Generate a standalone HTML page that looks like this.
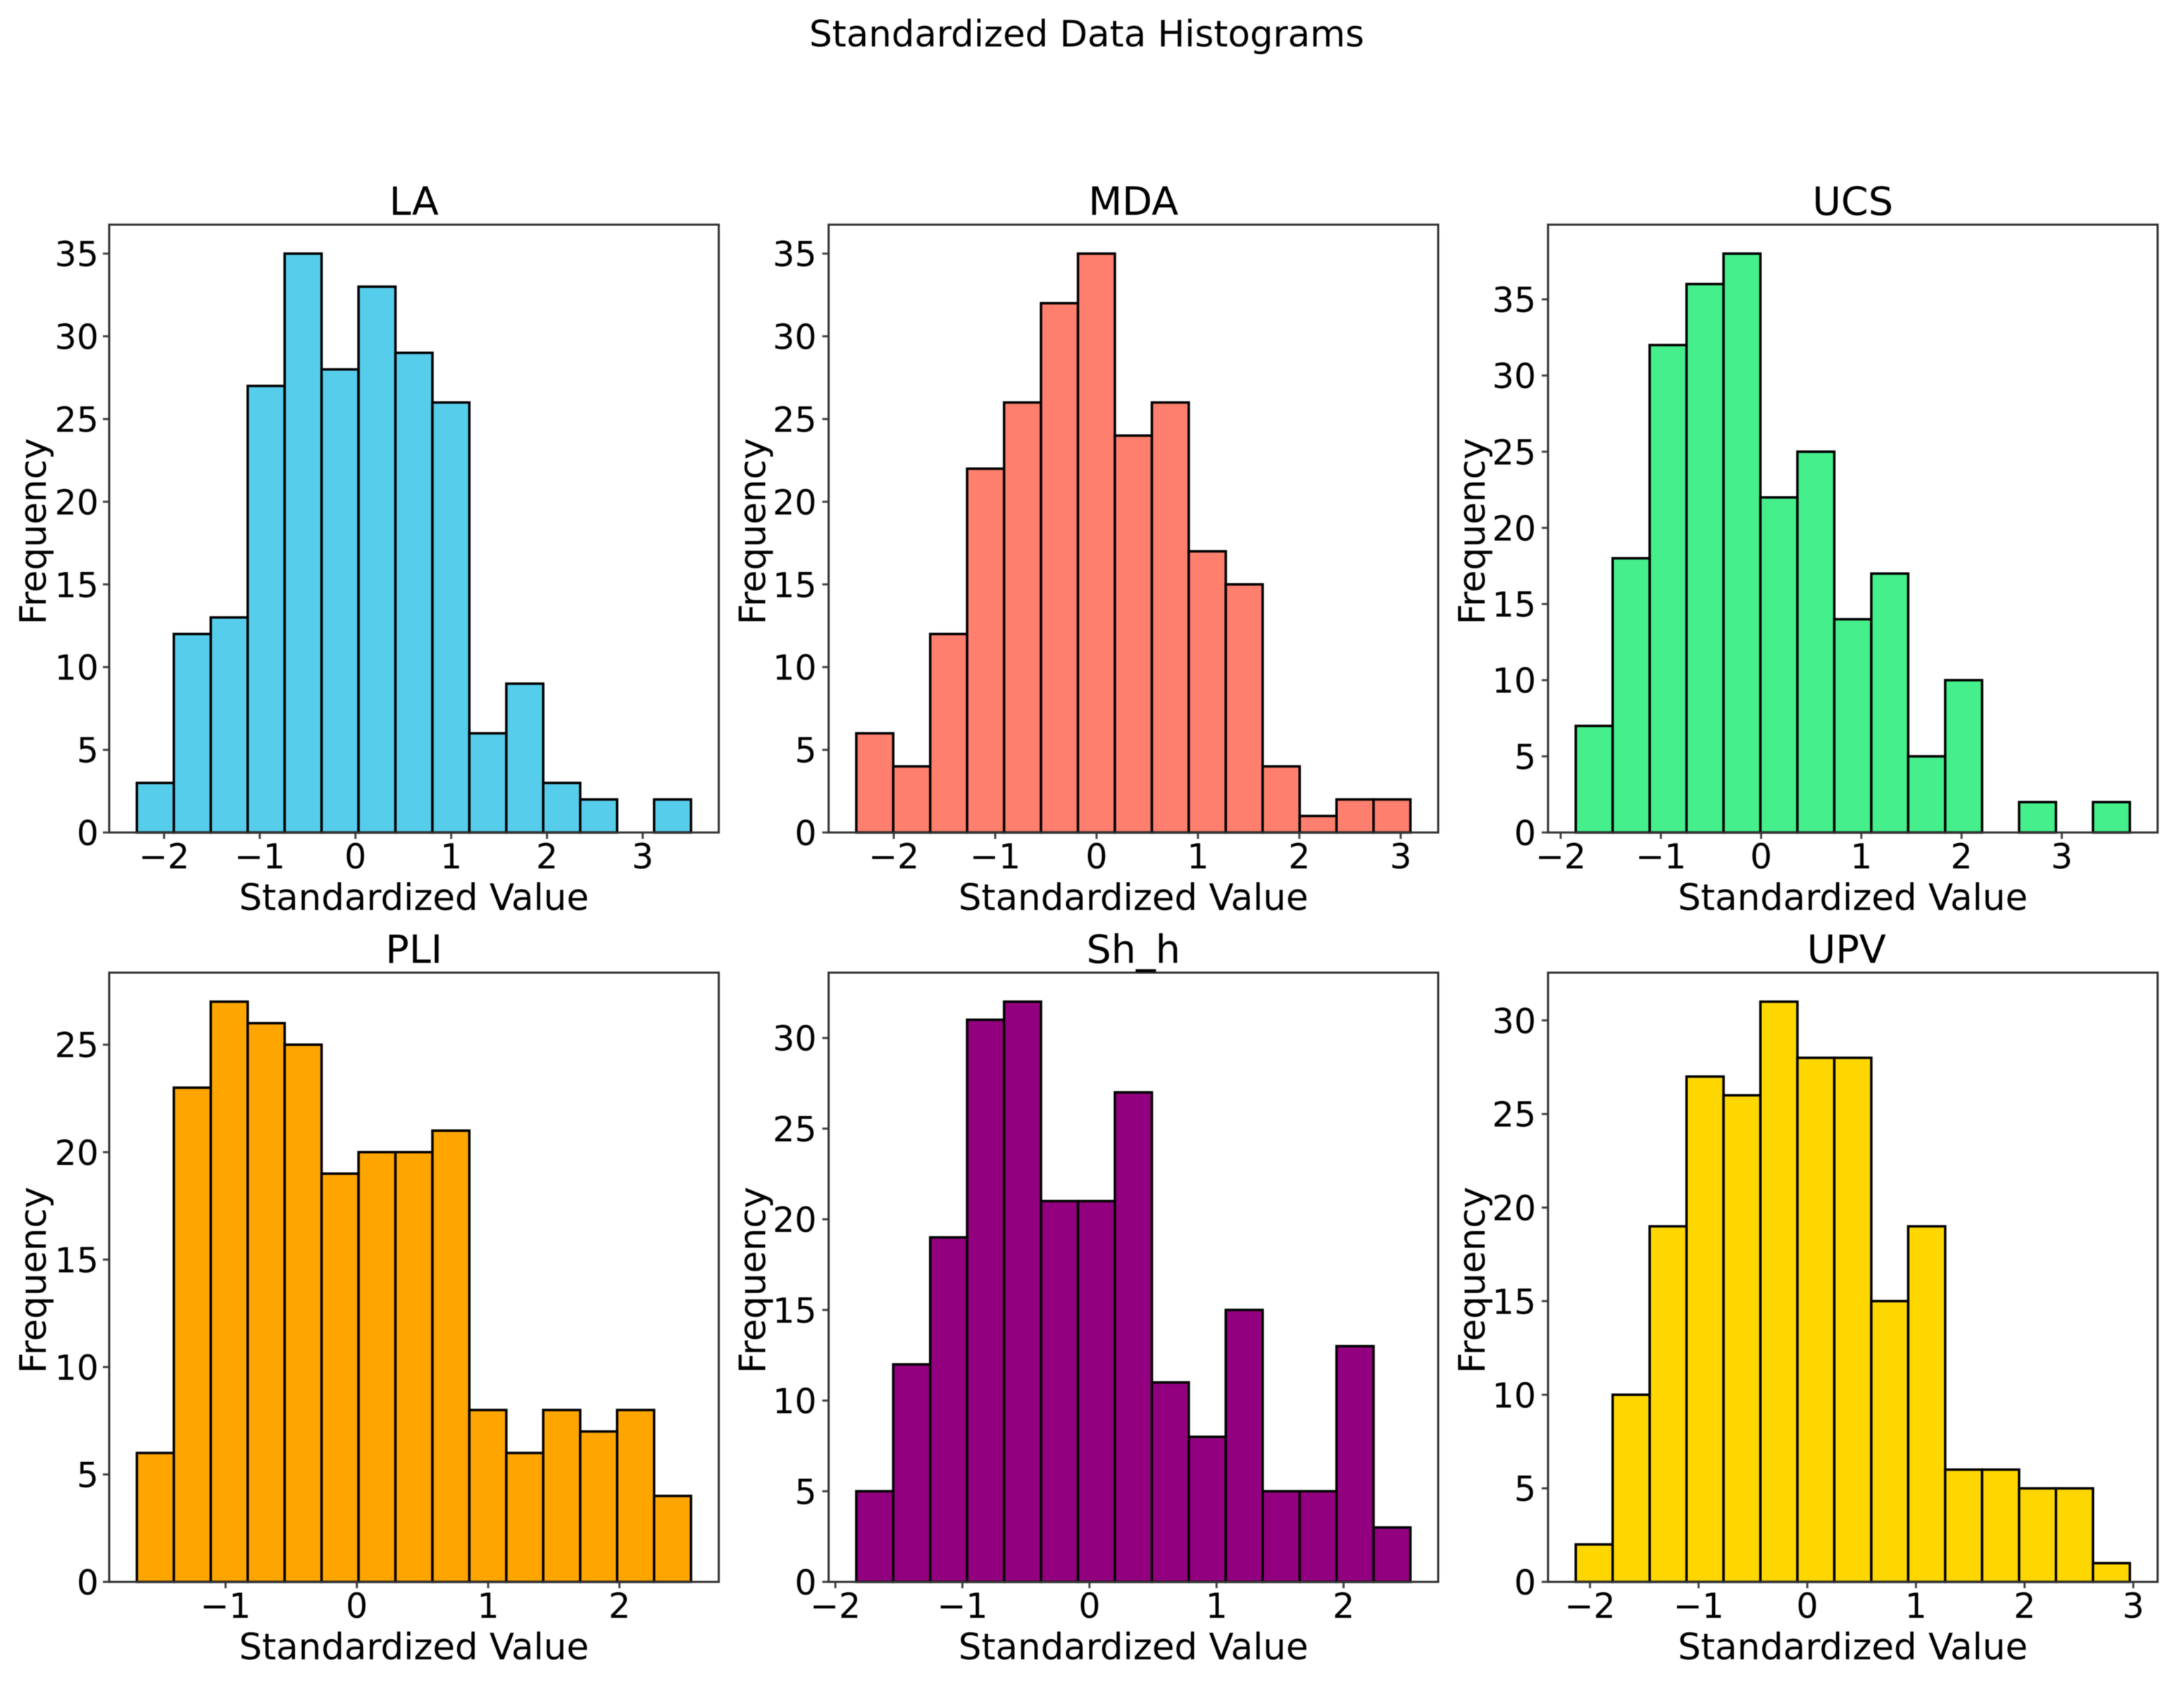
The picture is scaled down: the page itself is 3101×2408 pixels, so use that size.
<!DOCTYPE html>
<html lang="en">
<head>
<meta charset="utf-8">
<title>Standardized Data Histograms</title>
<style>
html,body{margin:0;padding:0;background:#fff;}
svg{display:block;filter:blur(0.6px);}
text{font-family:"DejaVu Sans","Liberation Sans",sans-serif;fill:#000;}
</style>
</head>
<body>
<svg id="chart" xmlns="http://www.w3.org/2000/svg" width="3101" height="2408" viewBox="0 0 3101 2408">
<rect x="0" y="0" width="3101" height="2408" fill="#ffffff"/>
<text x="1543" y="66" font-size="51.4" text-anchor="middle">Standardized Data Histograms</text>
</svg>
<script>
const panelNames = ["LA", "MDA", "UCS", "PLI", "Sh_h", "UPV"];

const laCounts  = [3, 12, 13, 27, 35, 28, 33, 29, 26, 6, 9, 3, 2, 0, 2];
const mdaCounts = [6, 4, 12, 22, 26, 32, 35, 24, 26, 17, 15, 4, 1, 2, 2];
const ucsCounts = [7, 18, 32, 36, 38, 22, 25, 14, 17, 5, 10, 0, 2, 0, 2];
const pliCounts = [6, 23, 27, 26, 25, 19, 20, 20, 21, 8, 6, 8, 7, 8, 4];
const shhCounts = [5, 12, 19, 31, 32, 21, 21, 27, 11, 8, 15, 5, 5, 13, 3];
const upvCounts = [2, 10, 19, 27, 26, 31, 28, 28, 15, 19, 6, 6, 5, 5, 1];
const panelCounts = [laCounts, mdaCounts, ucsCounts, pliCounts, shhCounts, upvCounts];

const laRange  = [-2.284, 3.505];
const mdaRange = [-2.37, 3.096];
const ucsRange = [-1.85, 3.68];
const pliRange = [-1.675, 2.545];
const shhRange = [-1.835, 2.526];
const upvRange = [-2.131, 2.969];
const panelRanges = [laRange, mdaRange, ucsRange, pliRange, shhRange, upvRange];

const laXTicks  = [-2, -1, 0, 1, 2, 3];
const mdaXTicks = [-2, -1, 0, 1, 2, 3];
const ucsXTicks = [-2, -1, 0, 1, 2, 3];
const pliXTicks = [-1, 0, 1, 2];
const shhXTicks = [-2, -1, 0, 1, 2];
const upvXTicks = [-2, -1, 0, 1, 2, 3];
const panelXTicks = [laXTicks, mdaXTicks, ucsXTicks, pliXTicks, shhXTicks, upvXTicks];

const laYTicks  = [0, 5, 10, 15, 20, 25, 30, 35];
const mdaYTicks = [0, 5, 10, 15, 20, 25, 30, 35];
const ucsYTicks = [0, 5, 10, 15, 20, 25, 30, 35];
const pliYTicks = [0, 5, 10, 15, 20, 25];
const shhYTicks = [0, 5, 10, 15, 20, 25, 30];
const upvYTicks = [0, 5, 10, 15, 20, 25, 30];
const panelYTicks = [laYTicks, mdaYTicks, ucsYTicks, pliYTicks, shhYTicks, upvYTicks];

const panelFills = ["#57cdec", "#ff7f6e", "#45ef8c", "#ffa500", "#92007f", "#ffd700"];

const xAxisTitle = "Standardized Value";
const yAxisTitle = "Frequency";

const svgNS = "http://www.w3.org/2000/svg";
const chart = document.getElementById("chart");

function make(tag, attrs, parent) {
  const el = document.createElementNS(svgNS, tag);
  for (const key in attrs) el.setAttribute(key, attrs[key]);
  parent.appendChild(el);
  return el;
}

function panelFrame(index) {
  const col = index % 3;
  const row = Math.floor(index / 3);
  const left = 155 + col * 1021.5;
  const top = 319 + row * 1062;
  return { left: left, right: left + 865.5, top: top, bottom: top + 863 + row * 2 };
}

function xScaleFor(frame, range) {
  const pad = (range[1] - range[0]) * 0.05;
  const d0 = range[0] - pad;
  const d1 = range[1] + pad;
  return function (v) { return frame.left + (v - d0) / (d1 - d0) * (frame.right - frame.left); };
}

function yScaleFor(frame, counts) {
  const dMax = Math.max.apply(null, counts) * 1.05;
  return function (v) { return frame.bottom - v / dMax * (frame.bottom - frame.top); };
}

function label(v) {
  return String(v).replace("-", "\u2212");
}

panelNames.forEach(function (name, index) {
  const frame = panelFrame(index);
  const counts = panelCounts[index];
  const range = panelRanges[index];
  const x = xScaleFor(frame, range);
  const y = yScaleFor(frame, counts);
  const slug = name.toLowerCase().replace("_", "-");
  const cx = (frame.left + frame.right) / 2;
  const cy = (frame.top + frame.bottom) / 2;

  const group = make("g", {}, chart);
  
  

  const binWidth = (range[1] - range[0]) / counts.length;
  counts.forEach(function (count, bin) {
    const x0 = x(range[0] + bin * binWidth);
    const x1 = x(range[0] + (bin + 1) * binWidth);
    const bar = make("rect", {
      x: x0, y: y(count), width: x1 - x0, height: y(0) - y(count),
      fill: panelFills[index], stroke: "#000", "stroke-width": 3.5
    }, group);
    
    
  });

  panelXTicks[index].forEach(function (value) {
    const px = x(value);
    const tick = make("line", { x1: px, x2: px, y1: frame.bottom, y2: frame.bottom + 9, stroke: "#444", "stroke-width": 3 }, group);
    
    
    const text = make("text", { x: px, y: frame.bottom + 51, "font-size": 49, "text-anchor": "middle" }, group);
    text.textContent = label(value);
    
    
  });

  const tickGap = index % 3 === 0 ? 15 : 17;
  panelYTicks[index].forEach(function (value) {
    const py = y(value);
    const tick = make("line", { x1: frame.left - 9, x2: frame.left, y1: py, y2: py, stroke: "#444", "stroke-width": 3 }, group);
    
    
    const text = make("text", { x: frame.left - tickGap, y: py + 18, "font-size": 49, "text-anchor": "end" }, group);
    text.textContent = label(value);
    
    
  });

  const spine = make("rect", {
    x: frame.left, y: frame.top, width: frame.right - frame.left, height: frame.bottom - frame.top,
    fill: "none", stroke: "#333", "stroke-width": 3
  }, group);
  
  

  const titleOffset = name === "UPV" ? -9 : 0;
  const title = make("text", { x: cx + titleOffset, y: frame.top - 14, "font-size": 55.6, "text-anchor": "middle" }, group);
  title.textContent = name;
  
  

  const xTitle = make("text", { x: cx, y: frame.bottom + 110, "font-size": 51.4, "text-anchor": "middle" }, group);
  xTitle.textContent = xAxisTitle;
  
  

  const yx = frame.left - 90;
  const yy = cy + 4;
  const yTitle = make("text", { x: yx, y: yy, "font-size": 51.3, "text-anchor": "middle", transform: "rotate(-90 " + yx + " " + yy + ")" }, group);
  yTitle.textContent = yAxisTitle;
  
  
});
</script>
</body>
</html>
